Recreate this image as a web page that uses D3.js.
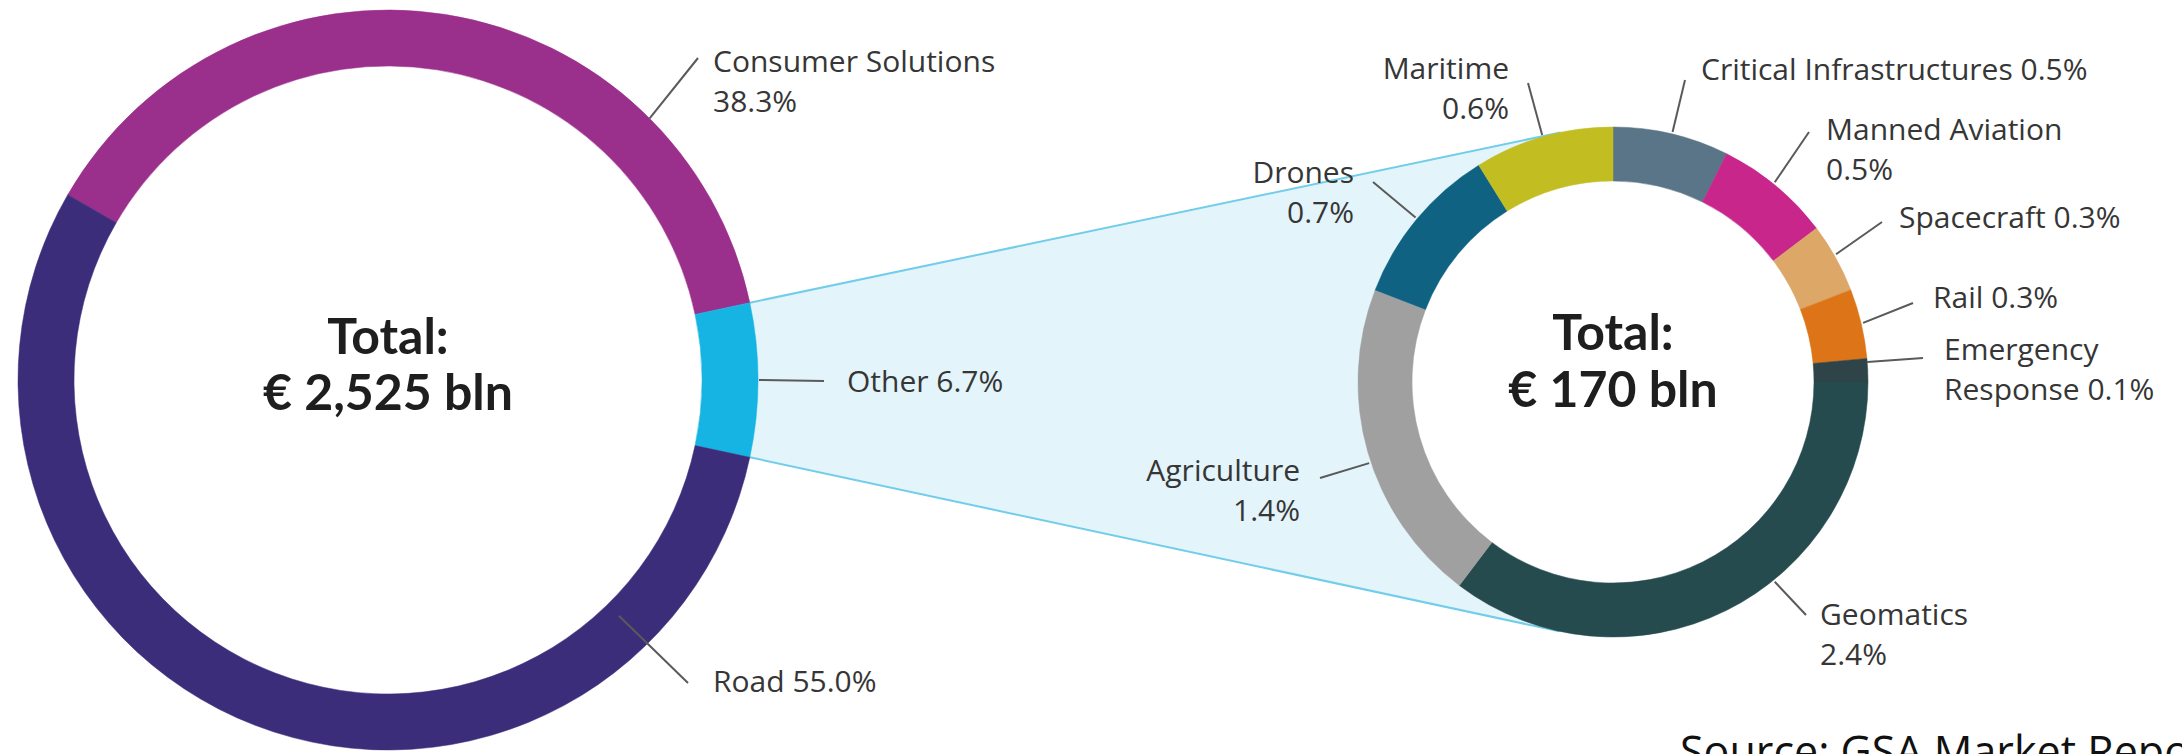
<!DOCTYPE html>
<html>
<head>
<meta charset="utf-8">
<script src="https://cdn.jsdelivr.net/npm/d3@7"></script>
<style>
  body { margin: 0; background: #fff; }
  svg { display: block; }
  .lbl { font-family: "Open Sans", sans-serif; font-size: 30px; fill: #363636; }
  .total { font-family: Lato, sans-serif; font-weight: 700; font-size: 50px; fill: #1e1e1e; }
  .src { font-family: "Open Sans", sans-serif; font-size: 43px; fill: #111; }
</style>
</head>
<body>
<div id="chart"></div>
<script>
// Market share by segment, left ring = whole market, right ring = breakdown of "Other"
const mainSegments = ["Consumer Solutions", "Other", "Road"];
const mainShares = [38.3, 6.7, 55.0];
const mainColors = ["#9a2f8c", "#16b4e3", "#3b2d7a"];

const otherSegments = ["Critical Infrastructures", "Manned Aviation", "Spacecraft", "Rail",
    "Emergency Response", "Geomatics", "Agriculture", "Drones", "Maritime"];
const otherShares = [0.5, 0.5, 0.3, 0.3, 0.1, 2.4, 1.4, 0.7, 0.6];
const otherColors = ["#5a7488", "#c9268c", "#dca767", "#dd7418",
    "#2e4448", "#264b4f", "#a0a0a0", "#0f6282", "#c2be22"];

const totalTitle = "Total:";
const totals = ["€ 2,525 bln", "€ 170 bln"];
const sourceText = "Source: GSA Market Report";

// label placement (angle of leader start in degrees, clockwise from 12 o'clock)
// wrap: "none" = one line, "pct" = break before the percentage, "word" = break after first word
const mainLabelLayout = [
    { angle: 45, rs: 370, x2: 698, y2: 58, tx: 713, ty: 72, anchor: "start", wrap: "pct" },
    { angle: 90, rs: 371, x2: 824, y2: 381, tx: 847, ty: 392, anchor: "start", wrap: "none" },
    { angle: 135.6, rs: 330, x2: 688, y2: 683, tx: 713, ty: 692, anchor: "start", wrap: "none" }
];
const otherLabelLayout = [
    { angle: 13.4, rs: 257, x2: 1685, y2: 80, tx: 1701, ty: 80, anchor: "start", wrap: "none" },
    { angle: 39, rs: 257, x2: 1809, y2: 132, tx: 1826, ty: 140, anchor: "start", wrap: "pct" },
    { angle: 60.2, rs: 257, x2: 1882, y2: 222, tx: 1899, ty: 228, anchor: "start", wrap: "none" },
    { angle: 76.7, rs: 257, x2: 1913, y2: 303, tx: 1933, ty: 308, anchor: "start", wrap: "none" },
    { angle: 85.5, rs: 255, x2: 1923, y2: 358, tx: 1944, ty: 360, anchor: "start", wrap: "word" },
    { angle: 141, rs: 257, x2: 1806, y2: 615, tx: 1820, ty: 625, anchor: "start", wrap: "pct" },
    { angle: -108.4, rs: 257, x2: 1320, y2: 478, tx: 1300, ty: 481, anchor: "end", wrap: "pct" },
    { angle: -50.2, rs: 257, x2: 1373, y2: 182, tx: 1354, ty: 183, anchor: "end", wrap: "pct" },
    { angle: -16, rs: 257, x2: 1528, y2: 83, tx: 1509, ty: 79, anchor: "end", wrap: "pct" }
];

const W = 2182, H = 754;
const leftRing = { cx: 388, cy: 380, r0: 314, r1: 370, t1: 354, t2: 410 };
const rightRing = { cx: 1613, cy: 382, r0: 201, r1: 255, t1: 350, t2: 407 };

const svg = d3.select("#chart").append("svg")
    .attr("width", W)
    .attr("height", H);

const polar = (c, r, a) => [c.cx + r * Math.sin(a), c.cy - r * Math.cos(a)];
const pct = v => `${v.toFixed(1)}%`;

// left pie: rotate so that "Other" is centred on 3 o'clock
const mainTotal = d3.sum(mainShares);
const otherIdx = mainSegments.indexOf("Other");
const before = d3.sum(mainShares.slice(0, otherIdx)) + mainShares[otherIdx] / 2;
const startL = Math.PI / 2 - 2 * Math.PI * before / mainTotal;
const mainPie = d3.pie().sort(null).value(d => d.value)
    .startAngle(startL).endAngle(startL + 2 * Math.PI);
const mainArcs = mainPie(mainSegments.map((s, i) => ({ name: s, value: mainShares[i], color: mainColors[i] })));

const otherPie = d3.pie().sort(null).value(d => d.value);
const otherArcs = otherPie(otherSegments.map((s, i) => ({ name: s, value: otherShares[i], color: otherColors[i] })));

// zoom cone from the "Other" slice to the right ring
const oArc = mainArcs[otherIdx];
const p1 = polar(leftRing, leftRing.r1, oArc.startAngle);
const p2 = polar(leftRing, leftRing.r1, oArc.endAngle);

function tangent(p, c, R, sign) {
    const dx = c.cx - p[0], dy = c.cy - p[1];
    const d = Math.hypot(dx, dy);
    const a = Math.atan2(dy, dx) + sign * Math.asin(R / d);
    const L = Math.sqrt(d * d - R * R);
    return [p[0] + L * Math.cos(a), p[1] + L * Math.sin(a)];
}
const t1 = tangent(p1, rightRing, rightRing.r1, -1);
const t2 = tangent(p2, rightRing, rightRing.r1, 1);

const cone = svg.append("g");
cone.append("path")
    .attr("d", d3.line()([p1, t1, t2, p2]) + "Z")
    .attr("fill", "#e3f4fb");
cone.append("circle")
    .attr("cx", rightRing.cx).attr("cy", rightRing.cy).attr("r", rightRing.r1)
    .attr("fill", "#e3f4fb");
cone.selectAll("line").data([[p1, t1], [p2, t2]]).enter().append("line")
    .attr("x1", d => d[0][0]).attr("y1", d => d[0][1])
    .attr("x2", d => d[1][0]).attr("y2", d => d[1][1])
    .attr("stroke", "#72cdea").attr("stroke-width", 2);

function labelLines(name, value, wrap) {
    if (wrap === "pct") return [name, pct(value)];
    if (wrap === "word") {
        const k = name.indexOf(" ");
        return [name.slice(0, k), `${name.slice(k + 1)} ${pct(value)}`];
    }
    return [`${name} ${pct(value)}`];
}

// draws one ring with centre text and leader labels
function drawRing(ring, arcs, layout, total) {
    const g = svg.append("g").attr("transform", `translate(${ring.cx},${ring.cy})`);
    g.append("circle").attr("r", ring.r0).attr("fill", "#fff");
    const arc = d3.arc().innerRadius(ring.r0).outerRadius(ring.r1);
    g.selectAll("path").data(arcs).enter().append("path")
        .attr("d", arc)
        .attr("fill", d => d.data.color)
        .attr("stroke", d => d.data.color)
        .attr("stroke-width", 0.5);

    svg.append("text").attr("class", "total")
        .attr("x", ring.cx).attr("y", ring.t1).attr("text-anchor", "middle")
        .text(totalTitle);
    svg.append("text").attr("class", "total")
        .attr("x", ring.cx).attr("y", ring.t2).attr("text-anchor", "middle")
        .text(total);

    arcs.forEach((d, i) => {
        const L = layout[i];
        const s = polar(ring, L.rs, L.angle * Math.PI / 180);
        svg.append("line")
            .attr("x1", s[0]).attr("y1", s[1]).attr("x2", L.x2).attr("y2", L.y2)
            .attr("stroke", "#5a5a5a").attr("stroke-width", 2);
        const t = svg.append("text").attr("class", "lbl")
            .attr("text-anchor", L.anchor);
        labelLines(d.data.name, d.data.value, L.wrap).forEach((ln, k) => {
            t.append("tspan").attr("x", L.tx).attr("y", L.ty + k * 40).text(ln);
        });
    });
}

drawRing(leftRing, mainArcs, mainLabelLayout, totals[0]);
drawRing(rightRing, otherArcs, otherLabelLayout, totals[1]);

// source line runs off the bottom-right edge, as in the original slide
svg.append("text").attr("class", "src")
    .attr("x", 1680).attr("y", 767)
    .text(sourceText);
</script>
</body>
</html>
